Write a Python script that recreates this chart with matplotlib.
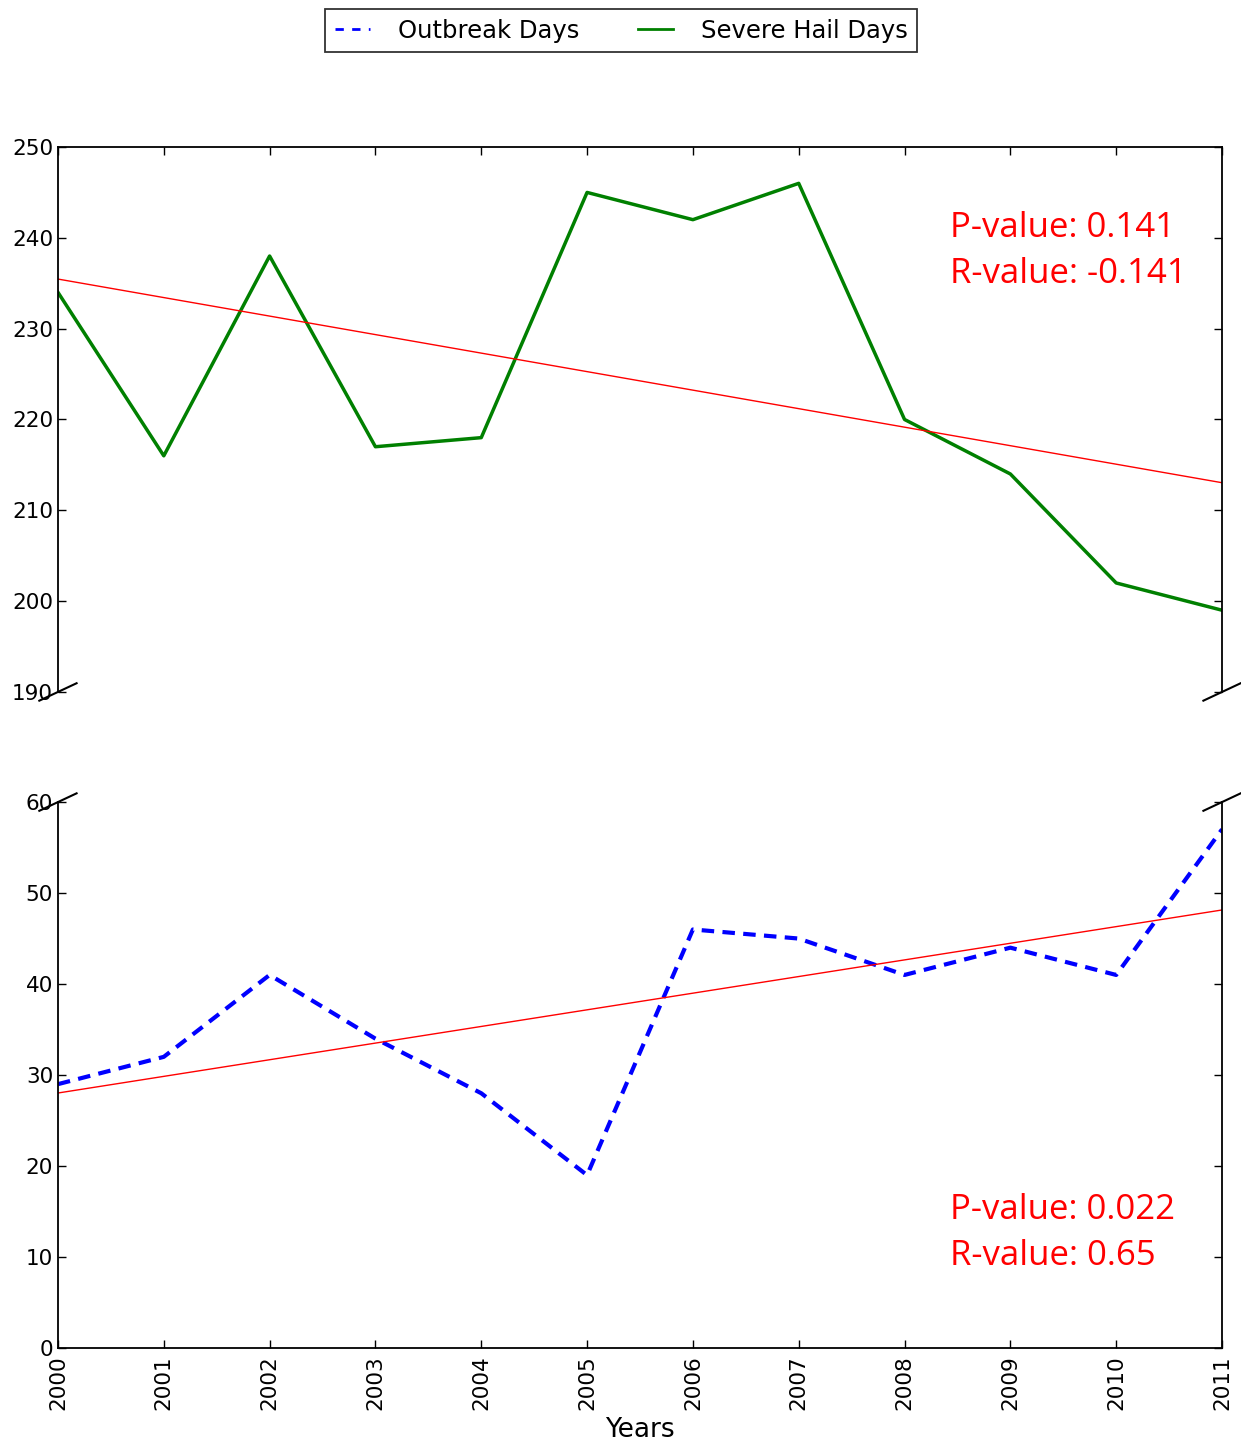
import matplotlib
matplotlib.use('Agg')
import matplotlib.pyplot as plt
import numpy as np

# Yearly counts
years = [2000, 2001, 2002, 2003, 2004, 2005, 2006, 2007, 2008, 2009, 2010, 2011]
hail_days = [234, 216, 238, 217, 218, 245, 242, 246, 220, 214, 202, 199]
outbreak_days = [29, 32, 41, 34, 28, 19, 46, 45, 41, 44, 41, 57]

hail_stats = ['P-value: 0.141', 'R-value: -0.141']
outbreak_stats = ['P-value: 0.022', 'R-value: 0.65']

plt.rcParams['xtick.direction'] = 'in'
plt.rcParams['ytick.direction'] = 'in'
plt.rcParams['xtick.major.size'] = 6
plt.rcParams['ytick.major.size'] = 6

fig = plt.figure(figsize=(12.41, 14.47), dpi=100)
ax_top = fig.add_axes([0.0467, 0.5218, 0.938, 0.3766])
ax_bot = fig.add_axes([0.0467, 0.0684, 0.938, 0.3773])

x = np.array(years)

# top panel: severe hail days
ax_top.plot(x, hail_days, color='green', linewidth=2.5, label='Severe Hail Days')
fit = np.polyfit(x, hail_days, 1)
ax_top.plot(x, np.polyval(fit, x), color='red', linewidth=1)
ax_top.set_ylim(190, 250)
ax_top.set_yticks(range(190, 251, 10))

# bottom panel: outbreak days
ax_bot.plot(x, outbreak_days, color='blue', linewidth=3, linestyle='--', dashes=(3, 2),
            label='Outbreak Days')
fit = np.polyfit(x, outbreak_days, 1)
ax_bot.plot(x, np.polyval(fit, x), color='red', linewidth=1)
ax_bot.set_ylim(0, 60)
ax_bot.set_yticks(range(0, 61, 10))

for ax in (ax_top, ax_bot):
    ax.set_xlim(years[0], years[-1])
    ax.set_xticks(years)
    ax.tick_params(labelsize=15.5, right=True, width=1)
    for s in ax.spines.values():
        s.set_linewidth(1.3)

ax_top.spines['bottom'].set_visible(False)
ax_top.xaxis.tick_top()
ax_top.tick_params(labeltop=False)
ax_bot.spines['top'].set_visible(False)
ax_bot.xaxis.tick_bottom()
ax_bot.set_xticklabels([str(y) for y in years], rotation=90)
ax_bot.tick_params(axis='x', pad=5)
ax_bot.set_xlabel('Years', fontsize=19, labelpad=5)

# broken axis marks
d = 0.016
kw = dict(transform=ax_top.transAxes, color='k', clip_on=False, linewidth=1.5)
ax_top.plot((-d, d), (-d, d), **kw)
ax_top.plot((1 - d, 1 + d), (-d, d), **kw)
kw.update(transform=ax_bot.transAxes)
ax_bot.plot((-d, d), (1 - d, 1 + d), **kw)
ax_bot.plot((1 - d, 1 + d), (1 - d, 1 + d), **kw)

# stats text
for ax, stats, ys in ((ax_top, hail_stats, (0.851, 0.767)),
                      (ax_bot, outbreak_stats, (0.253, 0.168))):
    for txt, yy in zip(stats, ys):
        ax.text(0.766, yy, txt, transform=ax.transAxes, color='red',
                fontsize=25, family=['Open Sans', 'DejaVu Sans'], va='center', ha='left')

handles = [ax_bot.get_lines()[0], ax_top.get_lines()[0]]
leg = fig.legend(handles, [h.get_label() for h in handles], loc='upper center',
                 bbox_to_anchor=(0.5005, 1 - 9 / 1447), borderaxespad=0, ncol=2,
                 fontsize=17.5, frameon=True, fancybox=False, edgecolor='black',
                 handlelength=1.45, columnspacing=2.4, borderpad=0.4, handletextpad=1.15)
leg.get_frame().set_linewidth(1.3)
leg.get_lines()[0].set_linewidth(2)
leg.get_lines()[0].set_dashes((3, 3))
leg.get_lines()[1].set_linewidth(2)

fig.savefig('out.png', dpi=100)
